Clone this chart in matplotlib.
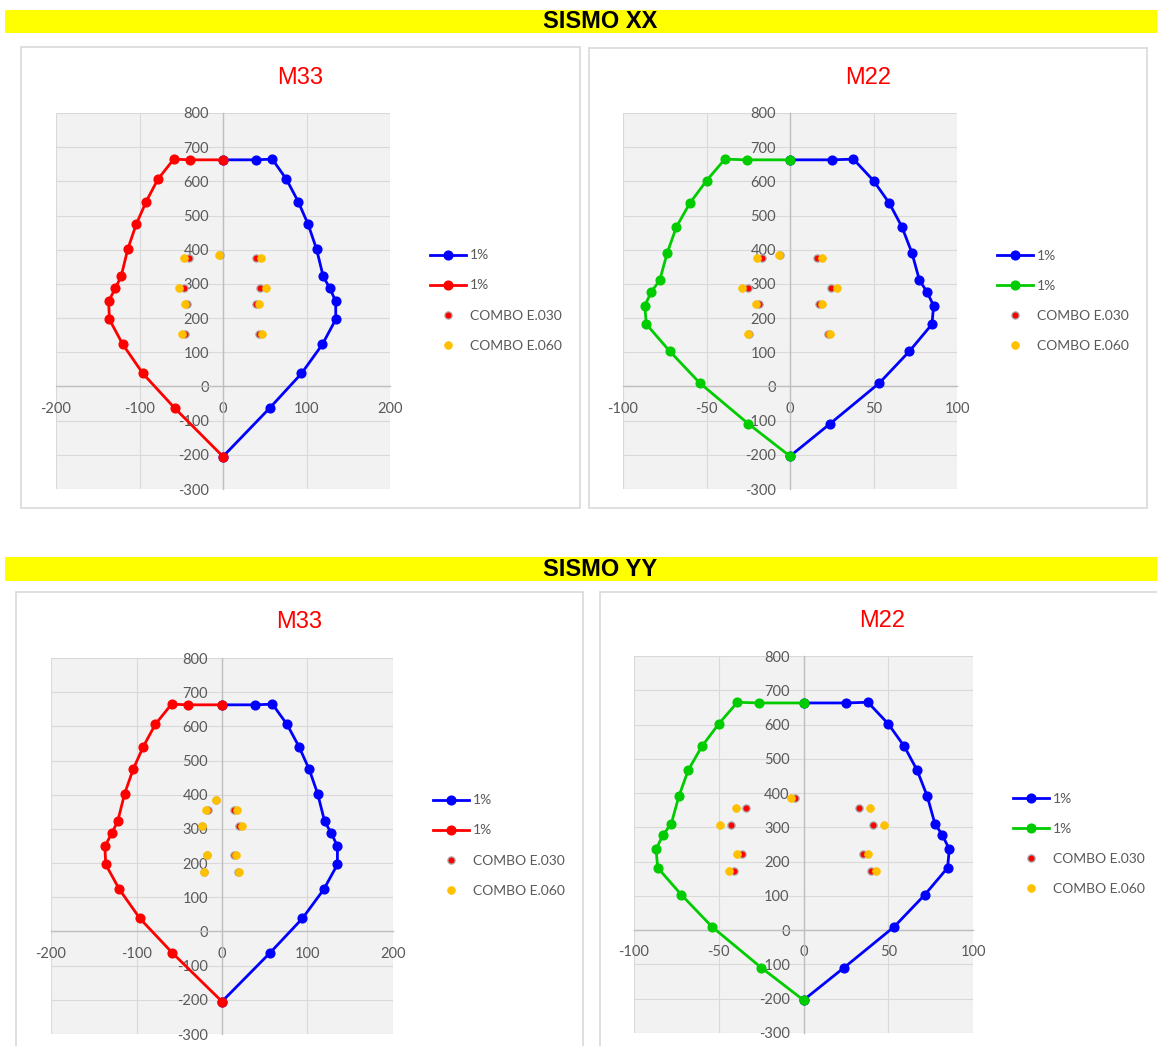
import matplotlib
matplotlib.use("Agg")
import matplotlib.pyplot as plt
from matplotlib.patches import Rectangle

plt.rcParams['font.family'] = ['Lato', 'DejaVu Sans']
plt.rcParams['axes.unicode_minus'] = False

# ---------------- data ----------------
# Interaction curves (same section for both earthquake directions)
m33_pos_x = [0, 39, 59, 76, 90, 102, 112, 120, 128, 135, 135, 119, 94, 56, 0]
m33_neg_x = [0, -40, -59, -78, -92, -104, -114, -122, -129, -137, -136, -120, -96, -58, 0]
m33_p = [663, 663, 665, 606, 541, 474, 402, 322, 287, 249, 196, 123, 38, -63, -205]

m22_pos_x = [0, 25, 38, 50, 59.5, 67, 73, 77.5, 82, 86, 85, 71.5, 53.5, 24, 0]
m22_neg_x = [0, -26, -39, -50, -60, -68, -73.5, -78, -83, -87, -86, -72, -54, -25, 0]
m22_p = [663, 663, 665, 602, 536, 467, 391, 311, 277, 236, 182, 103, 10, -109, -204]

# Load combinations - SISMO XX
xx_p = [385, 375, 375, 288, 288, 241, 241, 154, 154]
xx_m33_e030 = [-4, -41, 40, -47, 44, -43, 40, -46, 43]
xx_m33_e060 = [-5, -47, 46, -53, 51, -45, 43, -49, 47]
xx_m22_e030 = [-6, -16.5, 16, -25, 24.5, -18.5, 17.5, -24.5, 23]
xx_m22_e060 = [-6.5, -20, 19, -28.5, 28, -20.5, 19, -25, 24]

# Load combinations - SISMO YY
yy_p = [385, 356, 356, 308, 308, 223, 223, 173, 173]
yy_m33_e030 = [-6.5, -16.5, 14, -23, 20, -17.5, 14, -21.5, 19]
yy_m33_e060 = [-7.5, -18.5, 17, -23.5, 23, -18, 16.5, -21.5, 19.5]
yy_m22_e030 = [-5, -34, 33, -43, 41, -36, 35, -41, 40]
yy_m22_e060 = [-7.5, -40, 39, -49.5, 47.5, -39.5, 38, -44, 43]

curve_labels = ["1%", "1%"]
combo_labels = ["COMBO E.030", "COMBO E.060"]
banner_titles = ["SISMO XX", "SISMO YY"]

m33_xticks = [-200, -100, 0, 100, 200]
m22_xticks = [-100, -50, 0, 50, 100]
yticks = [-300, -200, -100, 0, 100, 200, 300, 400, 500, 600, 700, 800]

# ---------------- layout ----------------
W, H = 1157, 1046
fig = plt.figure(figsize=(W / 100, H / 100), dpi=100)


def frect(l, t, r, b):
    return [l / W, 1 - b / H, (r - l) / W, (b - t) / H]


def fx(x):
    return x / W


def fy(y):
    return 1 - y / H


# banners
for (top, bot), txt in zip([(10, 33), (557, 581)], banner_titles):
    fig.patches.append(Rectangle((fx(5), fy(bot)), fx(1157 - 5), (bot - top) / H,
                                 transform=fig.transFigure, facecolor='#FFFF00',
                                 edgecolor='none', zorder=-3))
    fig.text(fx(600), fy((top + bot) / 2 + 0.5), txt, ha='center', va='center',
             fontsize=17, fontweight='bold', family='Liberation Sans', color='black')

# chart panels
panels = [(21, 47, 580, 508), (589, 48, 1147, 508), (16, 592, 583, 1052), (600, 592, 1162, 1052)]
for (l, t, r, b) in panels:
    fig.patches.append(Rectangle((fx(l), fy(b)), (r - l) / W, (b - t) / H,
                                 transform=fig.transFigure, facecolor='white',
                                 edgecolor='#D9D9D9', lw=1.2, zorder=-2))


def setup(ax, xlim, xticks):
    ax.set_facecolor('#F2F2F2')
    ax.set_xlim(xlim)
    ax.set_ylim(-300, 800)
    ax.set_xticks(xticks)
    ax.set_yticks(yticks)
    ax.grid(True, color='#D9D9D9', lw=0.8)
    ax.set_axisbelow(True)
    for s in ['top', 'right']:
        ax.spines[s].set_visible(False)
    for s in ['left', 'bottom']:
        ax.spines[s].set_position(('data', 0))
        ax.spines[s].set_color('#BFBFBF')
        ax.spines[s].set_linewidth(1.0)
    ax.tick_params(length=0, labelsize=10.5, labelcolor='#595959')
    ax.tick_params(axis='y', pad=10)
    ax.tick_params(axis='x', pad=11)


def draw(ax, pos_x, neg_x, p, neg_color, e030, e060, cp):
    h1, = ax.plot(pos_x, p, color='#0000FF', lw=2, marker='o', ms=6.3, zorder=3)
    h2, = ax.plot(neg_x, p, color=neg_color, lw=2, marker='o', ms=6.3, zorder=3)
    h3, = ax.plot(e030, cp, ls='none', marker='o', ms=5.2, mfc='#FF0000',
                  mec='#A6A6A6', mew=0.9, zorder=4)
    h4, = ax.plot(e060, cp, ls='none', marker='o', ms=5.6, mfc='#FFC000',
                  mec='#FFC000', mew=0.5, zorder=5)
    return [h1, h2, h3, h4]


charts = [
    (frect(56, 113, 390, 489), (300, 78), (430, 300.5), 'M33', (-200, 200), m33_xticks,
     m33_pos_x, m33_neg_x, m33_p, '#FF0000', xx_m33_e030, xx_m33_e060, xx_p),
    (frect(623, 113, 957, 489), (868, 78), (997, 301), 'M22', (-100, 100), m22_xticks,
     m22_pos_x, m22_neg_x, m22_p, '#00CC00', xx_m22_e030, xx_m22_e060, xx_p),
    (frect(51, 658, 393, 1034), (299, 622), (433, 845.5), 'M33', (-200, 200), m33_xticks,
     m33_pos_x, m33_neg_x, m33_p, '#FF0000', yy_m33_e030, yy_m33_e060, yy_p),
    (frect(634, 656, 973, 1033), (882, 621), (1013, 844), 'M22', (-100, 100), m22_xticks,
     m22_pos_x, m22_neg_x, m22_p, '#00CC00', yy_m22_e030, yy_m22_e060, yy_p),
]

for (rect, tpos, lpos, title, xlim, xt, px, nx, pp, ncol, e030, e060, cp) in charts:
    ax = fig.add_axes(rect)
    setup(ax, xlim, xt)
    handles = draw(ax, px, nx, pp, ncol, e030, e060, cp)
    fig.text(fx(tpos[0]), fy(tpos[1]), title, ha='center', va='center',
             fontsize=17, family='Liberation Sans', color='#FF0000')
    ax.legend(handles, curve_labels + combo_labels, loc='center left',
              bbox_to_anchor=(fx(lpos[0]), fy(lpos[1])), bbox_transform=fig.transFigure,
              frameon=False, fontsize=10, labelcolor='#595959', handlelength=2.6,
              handletextpad=0.3, labelspacing=1.3, borderpad=0, borderaxespad=0,
              numpoints=1)

fig.savefig('out.png', dpi=100)
